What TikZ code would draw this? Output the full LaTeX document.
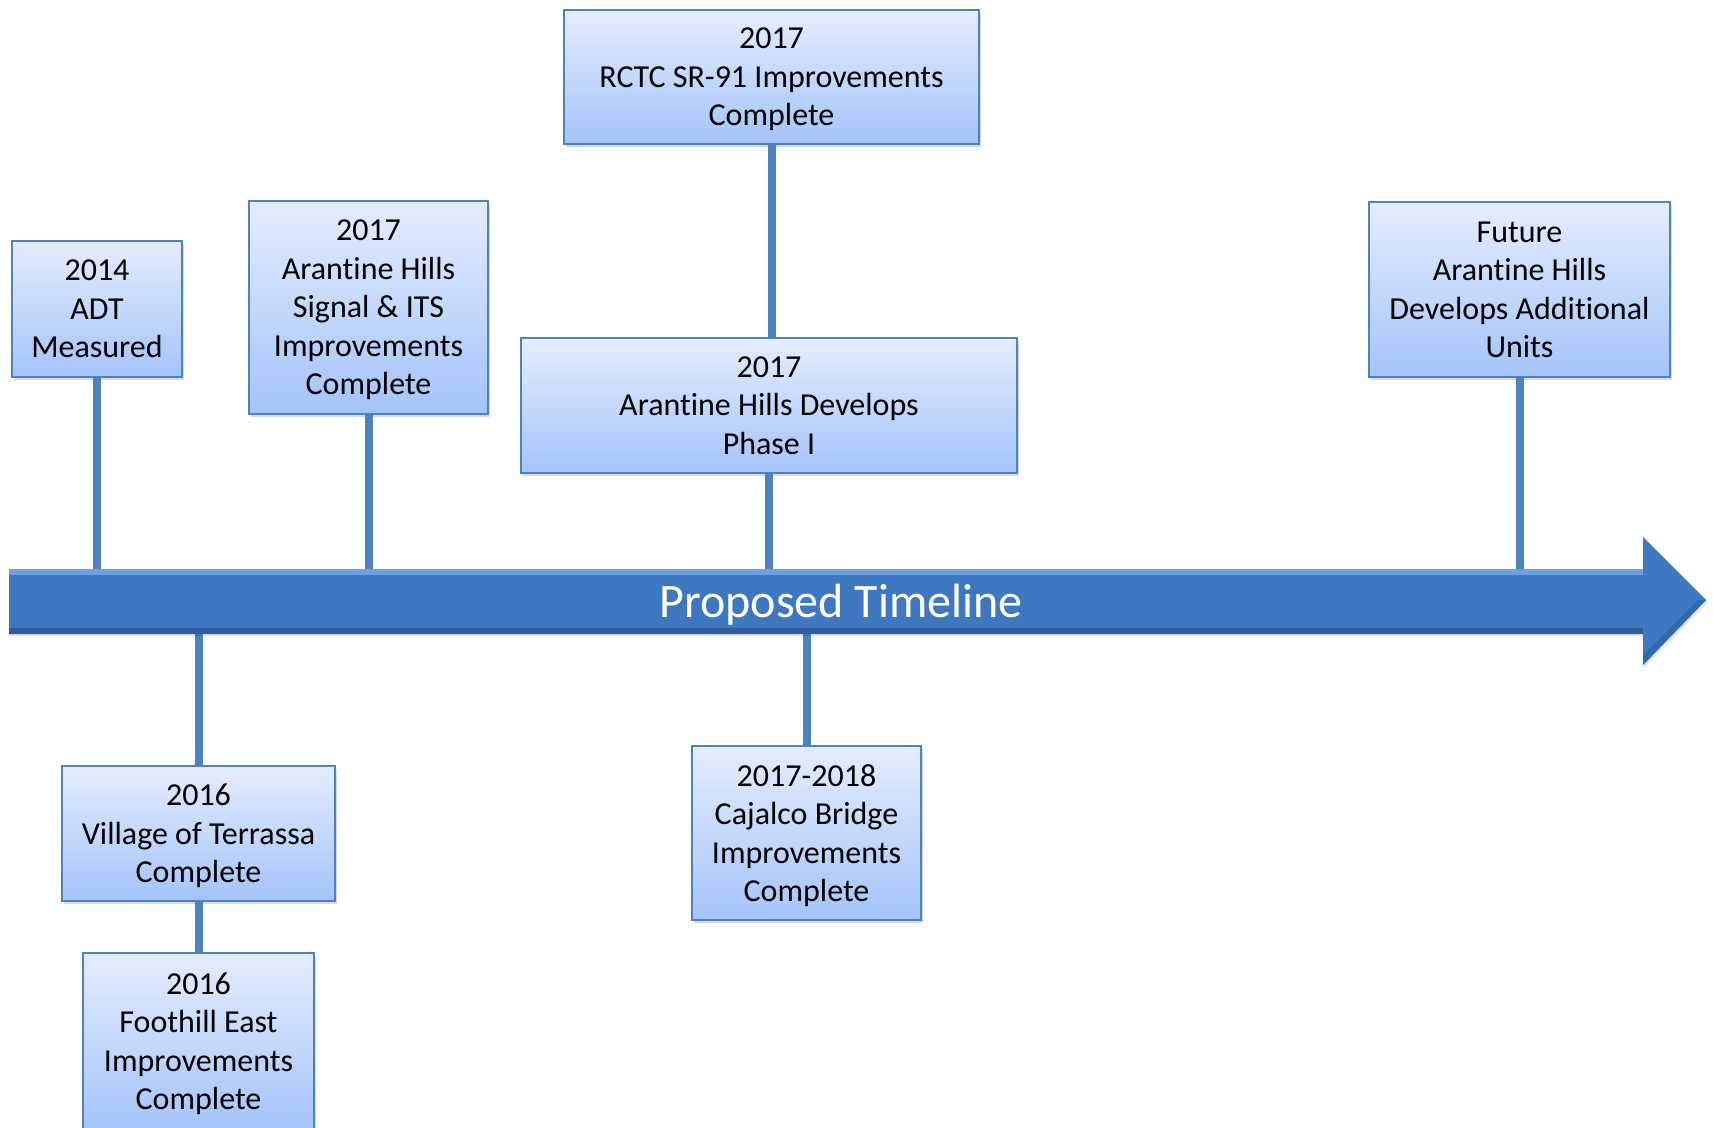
\documentclass[tikz,border=0pt]{standalone}
\usepackage{fontspec}
\setmainfont[Ligatures=NoCommon]{Carlito}
\usetikzlibrary{shadows}
\definecolor{boxtop}{RGB}{228,237,253}
\definecolor{boxbot}{RGB}{164,196,250}
\definecolor{boxline}{RGB}{79,129,189}
\definecolor{arrmain}{RGB}{62,120,193}
\definecolor{arrlight}{RGB}{108,160,228}
\definecolor{arrdark}{RGB}{48,94,156}
\tikzset{
  evbox/.style={draw=boxline, line width=1pt, top color=boxtop, bottom color=boxbot,
    align=center, inner sep=0pt, text depth=0pt, font=\fontsize{16}{19.25}\selectfont,
    drop shadow={opacity=0.3, shadow xshift=1pt, shadow yshift=-1.5pt}},
  stem/.style={draw=boxline, line width=4pt}
}
\begin{document}
\begin{tikzpicture}[x=0.5pt, y=-0.5pt]
    \useasboundingbox (0,0) rectangle (1713,1128);
    \coordinate (bartop) at (0,569);
    \coordinate (barbot) at (0,634);
    % events above the line
    \node[evbox, minimum width=85pt, minimum height=68pt] (adt) at (97,309) {2014\\ADT\\Measured};
    \node[evbox, minimum width=119.5pt, minimum height=106.5pt] (signal) at (368.5,307.5) {2017\\Arantine Hills\\Signal \& ITS\\Improvements\\Complete};
    \node[evbox, minimum width=207.5pt, minimum height=67pt] (rctc) at (771.5,77) {2017\\RCTC SR-91 Improvements\\Complete};
    \node[evbox, minimum width=248pt, minimum height=67.5pt] (phase) at (769,405.5) {2017\\Arantine Hills Develops\\Phase I};
    \node[evbox, minimum width=150.5pt, minimum height=87.5pt] (future) at (1519.5,289.5) {Future\\Arantine Hills\\Develops Additional\\Units};
    % events below the line
    \node[evbox, minimum width=136.5pt, minimum height=67.5pt] (village) at (198.5,833.5) {2016\\Village of Terrassa\\Complete};
    \node[evbox, minimum width=115.5pt, minimum height=88pt] (foothill) at (198.5,1041) {2016\\Foothill East\\Improvements\\Complete};
    \node[evbox, minimum width=114.5pt, minimum height=87pt] (cajalco) at (806.5,833) {2017-2018\\Cajalco Bridge\\Improvements\\Complete};
    % stems
    \draw[stem] (adt.south) -- (adt.south |- bartop);
    \draw[stem] (signal.south) -- (signal.south |- bartop);
    \draw[stem] (rctc.south) -- (rctc.south |- phase.north);
    \draw[stem] (phase.south) -- (phase.south |- bartop);
    \draw[stem] (future.south) -- (future.south |- bartop);
    \draw[stem] (village.north |- barbot) -- (village.north);
    \draw[stem] (village.south) -- (foothill.north);
    \draw[stem] (cajalco.north |- barbot) -- (cajalco.north);
    % timeline arrow
    \fill[black, opacity=0.12] (10,571) -- (1644,571) -- (1644,539) -- (1708,602) -- (1644,667) -- (1644,636) -- (10,636) -- cycle;
    \fill[arrmain] (9,569) -- (1643,569) -- (1643,537) -- (1706,600) -- (1643,665) -- (1643,634) -- (9,634) -- cycle;
    \fill[arrlight] (9,569) -- (1643,569) -- (1643,575) -- (9,575) -- cycle;
    \fill[arrdark] (9,628) -- (1643,628) -- (1643,634) -- (9,634) -- cycle;
    \fill[arrdark, opacity=0.6] (1643,665) -- (1706,600) -- (1698,600) -- (1643,655) -- cycle;
    \node[text=white, font=\fontsize{24}{28}\selectfont] (title) at (841,605) {Proposed Timeline};
\end{tikzpicture}
\end{document}
